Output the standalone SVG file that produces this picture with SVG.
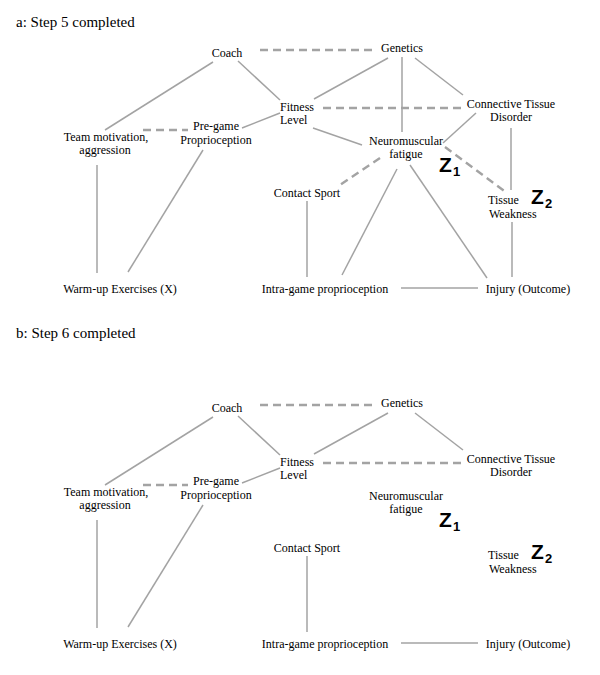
<svg xmlns="http://www.w3.org/2000/svg" width="600" height="675" viewBox="0 0 600 675">
<style>
  text { font-family: "Liberation Serif", "Times New Roman", serif; font-size: 12px; fill: #000; }
  .t { font-size: 15px; }
  .m { text-anchor: middle; }
  .z { font-family: "Liberation Sans", Arial, sans-serif; font-weight: bold; font-size: 21px; }
  .zs { font-family: "Liberation Sans", Arial, sans-serif; font-weight: bold; font-size: 13px; }
  .s { stroke: #a3a3a3; stroke-width: 1.5; fill: none; }
  .d { stroke: #a3a3a3; stroke-width: 2.4; fill: none; stroke-dasharray: 8 5; }
</style>
<rect width="600" height="675" fill="#fff"/>

<text class="t" x="16" y="27">a: Step 5 completed</text>
<text class="t" x="16" y="338">b: Step 6 completed</text>

<g id="panel-a">
  <g id="a-connectors">
    <line class="s" x1="213" y1="62" x2="105" y2="130"/>
    <line class="s" x1="238" y1="61" x2="280" y2="100"/>
    <line class="s" x1="388" y1="58" x2="314" y2="99"/>
    <line class="s" x1="402" y1="57" x2="402" y2="132"/>
    <line class="s" x1="415" y1="58" x2="463" y2="95"/>
    <line class="s" x1="280" y1="113" x2="242" y2="128"/>
    <line class="s" x1="313" y1="128" x2="362" y2="145"/>
    <line class="s" x1="476" y1="113" x2="443" y2="143"/>
    <line class="s" x1="511" y1="128" x2="511" y2="190"/>
    <line class="s" x1="512" y1="222" x2="512" y2="277"/>
    <line class="s" x1="397" y1="169" x2="342" y2="275"/>
    <line class="s" x1="410" y1="165" x2="487" y2="278"/>
    <line class="s" x1="307" y1="201" x2="307" y2="277"/>
    <line class="s" x1="401" y1="288" x2="478" y2="288"/>
    <line class="s" x1="97" y1="165" x2="97" y2="273"/>
    <line class="s" x1="203" y1="150" x2="128" y2="272"/>
    <line class="d" x1="260" y1="50" x2="373" y2="50"/>
    <line class="d" x1="323" y1="108" x2="463" y2="108"/>
    <line class="d" x1="143" y1="130" x2="188" y2="130"/>
    <line class="d" x1="445" y1="147" x2="507" y2="193"/>
    <line class="d" x1="380" y1="158" x2="340" y2="185"/>
  </g>
  <g id="a-coach"><text class="m" x="227" y="57">Coach</text></g>
  <g id="a-genetics"><text class="m" x="402" y="52">Genetics</text></g>
  <g id="a-fitness"><text x="280" y="111">Fitness</text><text x="280" y="124">Level</text></g>
  <g id="a-connective"><text class="m" x="511" y="108">Connective Tissue</text><text class="m" x="511" y="121">Disorder</text></g>
  <g id="a-team"><text class="m" x="106" y="141">Team motivation,</text><text class="m" x="105" y="154">aggression</text></g>
  <g id="a-pregame"><text class="m" x="216" y="130">Pre-game</text><text class="m" x="216" y="143.5">Proprioception</text></g>
  <g id="a-neuro"><text class="m" x="406" y="145">Neuromuscular</text><text class="m" x="406" y="158">fatigue</text></g>
  <g id="a-z1"><text class="z" x="439" y="172">Z</text><text class="zs" x="453" y="176">1</text></g>
  <g id="a-contact"><text class="m" x="307" y="197">Contact Sport</text></g>
  <g id="a-tissue"><text x="488" y="204">Tissue</text><text x="489" y="218">Weakness</text></g>
  <g id="a-z2"><text class="z" x="531" y="204">Z</text><text class="zs" x="545" y="208">2</text></g>
  <g id="a-warmup"><text class="m" x="120" y="293">Warm-up Exercises (X)</text></g>
  <g id="a-intra"><text class="m" x="325" y="293">Intra-game proprioception</text></g>
  <g id="a-injury"><text class="m" x="528" y="293">Injury (Outcome)</text></g>
</g>

<g id="panel-b" transform="translate(0,355)">
  <g id="b-connectors">
    <line class="s" x1="213" y1="62" x2="105" y2="130"/>
    <line class="s" x1="238" y1="61" x2="280" y2="100"/>
    <line class="s" x1="388" y1="58" x2="314" y2="99"/>
    <line class="s" x1="415" y1="58" x2="463" y2="95"/>
    <line class="s" x1="280" y1="113" x2="242" y2="128"/>
    <line class="s" x1="307" y1="201" x2="307" y2="277"/>
    <line class="s" x1="401" y1="288" x2="478" y2="288"/>
    <line class="s" x1="97" y1="165" x2="97" y2="273"/>
    <line class="s" x1="203" y1="150" x2="128" y2="272"/>
    <line class="d" x1="260" y1="50" x2="373" y2="50"/>
    <line class="d" x1="323" y1="108" x2="463" y2="108"/>
    <line class="d" x1="143" y1="130" x2="188" y2="130"/>
  </g>
  <g id="b-coach"><text class="m" x="227" y="57">Coach</text></g>
  <g id="b-genetics"><text class="m" x="402" y="52">Genetics</text></g>
  <g id="b-fitness"><text x="280" y="111">Fitness</text><text x="280" y="124">Level</text></g>
  <g id="b-connective"><text class="m" x="511" y="108">Connective Tissue</text><text class="m" x="511" y="121">Disorder</text></g>
  <g id="b-team"><text class="m" x="106" y="141">Team motivation,</text><text class="m" x="105" y="154">aggression</text></g>
  <g id="b-pregame"><text class="m" x="216" y="130">Pre-game</text><text class="m" x="216" y="143.5">Proprioception</text></g>
  <g id="b-neuro"><text class="m" x="406" y="145">Neuromuscular</text><text class="m" x="406" y="158">fatigue</text></g>
  <g id="b-z1"><text class="z" x="439" y="172">Z</text><text class="zs" x="453" y="176">1</text></g>
  <g id="b-contact"><text class="m" x="307" y="197">Contact Sport</text></g>
  <g id="b-tissue"><text x="488" y="204">Tissue</text><text x="489" y="218">Weakness</text></g>
  <g id="b-z2"><text class="z" x="531" y="204">Z</text><text class="zs" x="545" y="208">2</text></g>
  <g id="b-warmup"><text class="m" x="120" y="293">Warm-up Exercises (X)</text></g>
  <g id="b-intra"><text class="m" x="325" y="293">Intra-game proprioception</text></g>
  <g id="b-injury"><text class="m" x="528" y="293">Injury (Outcome)</text></g>
</g>
</svg>
